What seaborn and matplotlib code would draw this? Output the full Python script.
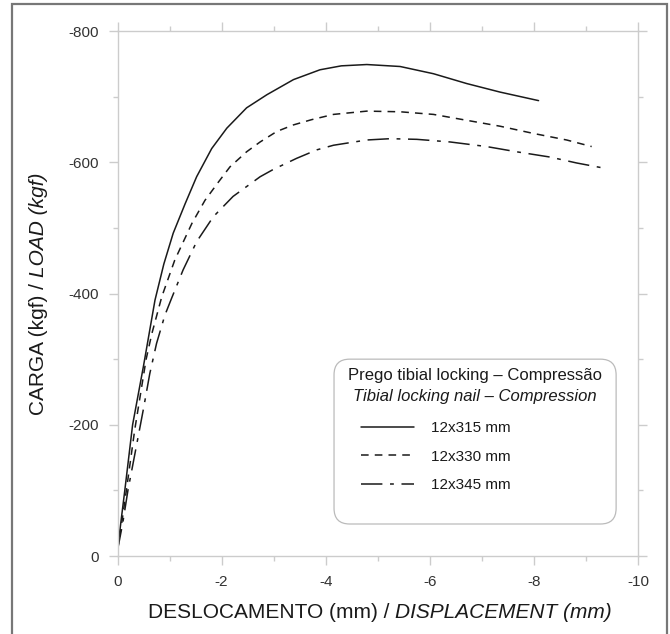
import numpy as np
import pandas as pd
import seaborn as sns
import matplotlib.pyplot as plt
from matplotlib.patches import FancyBboxPatch, Rectangle
from matplotlib.ticker import MultipleLocator

# curves (displacement mm, load kgf)
x_315 = [0, -0.07, -0.14, -0.29, -0.50, -0.72, -0.89, -1.07, -1.30, -1.52, -1.81,
         -2.10, -2.48, -2.87, -3.38, -3.89, -4.30, -4.79, -5.43, -6.07, -6.71,
         -7.35, -8.09]
y_315 = [-9, -55, -100, -200, -290, -390, -445, -492, -537, -578, -621,
         -652, -683, -703, -726, -741, -747, -749, -746, -735, -720,
         -707, -694]

x_330 = [0, -0.08, -0.17, -0.33, -0.55, -0.66, -0.85, -1.10, -1.43, -1.68, -1.94,
         -2.16, -2.48, -2.74, -3.06, -3.38, -3.73, -4.15, -4.79, -5.43, -6.07,
         -6.71, -7.35, -7.99, -8.63, -9.11]
y_330 = [-9, -50, -100, -192, -300, -339, -395, -451, -507, -542, -570,
         -593, -616, -631, -647, -657, -665, -673, -678, -677, -673,
         -664, -655, -644, -634, -624]

x_345 = [0, -0.1, -0.2, -0.39, -0.5, -0.62, -0.75, -0.91, -1.04, -1.26, -1.52,
         -1.84, -2.22, -2.48, -2.74, -2.99, -3.44, -3.83, -4.15, -4.79, -5.24,
         -5.75, -6.39, -7.09, -7.67, -8.31, -8.82, -9.42]
y_345 = [-9, -50, -100, -179, -225, -278, -324, -367, -393, -436, -479,
         -517, -548, -563, -578, -589, -606, -619, -626, -634, -636,
         -635, -631, -624, -616, -608, -599, -590]

labels = ["12x315 mm", "12x330 mm", "12x345 mm"]

df = pd.concat([
    pd.DataFrame({"x": x_315, "y": y_315, "serie": labels[0]}),
    pd.DataFrame({"x": x_330, "y": y_330, "serie": labels[1]}),
    pd.DataFrame({"x": x_345, "y": y_345, "serie": labels[2]}),
])

sns.set_style("white")
plt.rcParams['font.family'] = ['Liberation Sans', 'DejaVu Sans']

fig = plt.figure(figsize=(6.7, 6.34), dpi=100)
ax = fig.add_axes([0.1754, 0.123, 0.7768, 0.828])

dashes = {labels[0]: "", labels[1]: (5, 4), labels[2]: (14, 5, 2.5, 5)}
sns.lineplot(data=df, x="x", y="y", style="serie", dashes=dashes, color="#1a1a1a",
             sort=False, estimator=None, linewidth=1.1, legend=False, ax=ax)

ax.set_xlim(0, -10)
ax.set_ylim(0, -800)
ax.xaxis.set_major_locator(MultipleLocator(2))
ax.xaxis.set_minor_locator(MultipleLocator(1))
ax.yaxis.set_major_locator(MultipleLocator(200))
ax.yaxis.set_minor_locator(MultipleLocator(100))
ax.set_xticklabels(["0" if t == 0 else "%d" % t for t in ax.get_xticks()])
ax.set_yticklabels(["0" if t == 0 else "%d" % t for t in ax.get_yticks()])

for s in ax.spines.values():
    s.set_color("#cccccc")
    s.set_linewidth(1.0)
ax.tick_params(which="both", direction="out", color="#cccccc", width=1.0,
               top=True, right=True, bottom=True, left=True, labelsize=11,
               labelcolor="#333333")
ax.tick_params(which="major", length=6.5)
ax.tick_params(which="minor", length=3.4)
ax.tick_params(axis="x", which="major", pad=7)
ax.tick_params(axis="y", which="major", pad=7)
ax.set_xlabel("")
ax.set_ylabel("")

# axis titles: upright part + italic part
renderer = fig.canvas.get_renderer()


def width_of(s, **kw):
    t = fig.text(0, 0, s, fontsize=15, **kw)
    w = t.get_window_extent(renderer).width
    t.remove()
    return w


def two_part_label(cx, cy, part1, part2, vertical=False):
    space = width_of("a a") - width_of("aa")
    w1 = width_of(part1) + space
    w2 = width_of(part2, style="italic")
    start = -(w1 + w2) / 2
    W, H = fig.bbox.width, fig.bbox.height
    if not vertical:
        fig.text(cx + start / W, cy, part1, fontsize=15, ha="left", va="center",
                 color="#1a1a1a")
        fig.text(cx + (start + w1) / W, cy, part2, fontsize=15, style="italic",
                 ha="left", va="center", color="#1a1a1a")
    else:
        fig.text(cx, cy + start / H, part1, fontsize=15, ha="center", va="bottom",
                 rotation=90, color="#1a1a1a")
        fig.text(cx, cy + (start + w1) / H, part2, fontsize=15, style="italic",
                 ha="center", va="bottom", rotation=90, color="#1a1a1a")


two_part_label(380 / 670, 1 - 613 / 634, "DESLOCAMENTO (mm) /", "DISPLACEMENT (mm)")
two_part_label(38 / 670, 1 - 294 / 634, "CARGA (kgf) /", "LOAD (kgf)", vertical=True)

# legend box
box = FancyBboxPatch((0.416, 0.061), 0.542, 0.314, transform=ax.transAxes,
                     boxstyle="round,pad=0,rounding_size=0.03",
                     facecolor="white", edgecolor="#bbbbbb", linewidth=0.9, zorder=3)
ax.add_patch(box)
ax.text(0.687, 0.343, "Prego tibial locking – Compressão", transform=ax.transAxes,
        ha="center", va="center", fontsize=12, color="#1a1a1a", zorder=4)
ax.text(0.687, 0.303, "Tibial locking nail – Compression", transform=ax.transAxes,
        ha="center", va="center", fontsize=12, style="italic", color="#1a1a1a", zorder=4)
leg = ax.legend(ax.get_lines()[:3], labels, loc="upper left",
                bbox_to_anchor=(0.468, 0.257), frameon=False, fontsize=11,
                handlelength=3.46, handletextpad=1.1, labelspacing=0.96,
                borderpad=0, borderaxespad=0)
leg.set_zorder(5)
for t in leg.get_texts():
    t.set_color("#1a1a1a")

# outer frame of the figure
fig.patches.append(Rectangle((12 / 670, -0.02), 655 / 670, 1.02 - 4 / 634,
                             transform=fig.transFigure, fill=False,
                             edgecolor="#777777", linewidth=1.6))

plt.savefig("out.png", dpi=100)
